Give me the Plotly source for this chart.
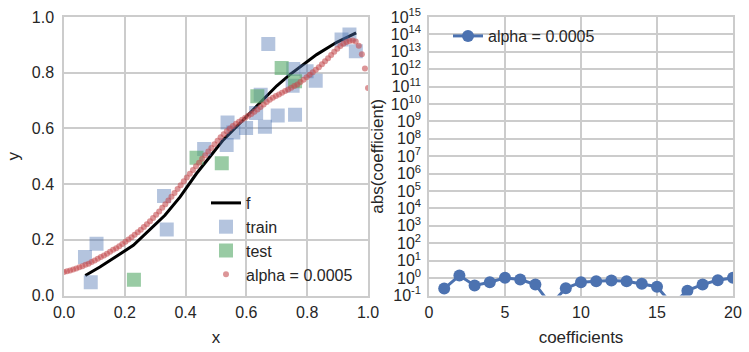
import plotly.graph_objects as go

# ---- data ----
train_x = [0.069, 0.107, 0.088, 0.329, 0.338, 0.461, 0.538, 0.557, 0.535, 0.599, 0.632, 0.647,
           0.661, 0.672, 0.703, 0.754, 0.752, 0.760, 0.798, 0.828, 0.913, 0.939, 0.960]
train_y = [0.138, 0.186, 0.048, 0.357, 0.237, 0.526, 0.621, 0.585, 0.540, 0.601, 0.655, 0.721,
           0.606, 0.903, 0.646, 0.813, 0.753, 0.649, 0.805, 0.771, 0.919, 0.937, 0.877]

test_x = [0.230, 0.436, 0.519, 0.636, 0.716, 0.760]
test_y = [0.057, 0.495, 0.475, 0.715, 0.817, 0.769]

f_x = [0.070, 0.118, 0.228, 0.332, 0.382, 0.436, 0.480, 0.524, 0.590, 0.645, 0.700, 0.743, 0.831, 0.897, 0.961]
f_y = [0.072, 0.102, 0.180, 0.288, 0.354, 0.438, 0.498, 0.559, 0.631, 0.691, 0.753, 0.793, 0.865, 0.909, 0.943]

fit_x = [0.0, .0101, .0202, .0303, .0404, .0505, .0606, .0707, .0808, .0909,
         .1010, .1111, .1212, .1313, .1414, .1515, .1616, .1717, .1818, .1919,
         .2020, .2121, .2222, .2323, .2424, .2525, .2626, .2727, .2828, .2929,
         .3030, .3131, .3232, .3333, .3434, .3535, .3636, .3737, .3838, .3939,
         .4040, .4141, .4242, .4343, .4444, .4545, .4646, .4747, .4848, .4949,
         .5051, .5152, .5253, .5354, .5455, .5556, .5657, .5758, .5859, .5960,
         .6061, .6162, .6263, .6364, .6465, .6566, .6667, .6768, .6869, .6970,
         .7071, .7172, .7273, .7374, .7475, .7576, .7677, .7778, .7879, .7980,
         .8081, .8182, .8283, .8384, .8485, .8586, .8687, .8788, .8889, .8990,
         .9091, .9192, .9293, .9394, .9495, .9596, .9697, .9798, .9899, 1.0]
fit_y = [0.084, 0.087, 0.090, 0.093, 0.097, 0.101, 0.105, 0.110, 0.114, 0.120,
         0.126, 0.132, 0.138, 0.144, 0.150, 0.157, 0.164, 0.170, 0.177, 0.185,
         0.193, 0.201, 0.209, 0.218, 0.227, 0.236, 0.246, 0.256, 0.267, 0.278,
         0.290, 0.302, 0.315, 0.328, 0.341, 0.355, 0.368, 0.382, 0.396, 0.410,
         0.424, 0.437, 0.451, 0.464, 0.477, 0.491, 0.504, 0.517, 0.530, 0.543,
         0.556, 0.568, 0.579, 0.590, 0.600, 0.609, 0.617, 0.624, 0.631, 0.638,
         0.645, 0.652, 0.660, 0.668, 0.677, 0.686, 0.695, 0.703, 0.710, 0.716,
         0.722, 0.728, 0.734, 0.740, 0.746, 0.752, 0.758, 0.767, 0.775, 0.784,
         0.793, 0.802, 0.811, 0.820, 0.830, 0.841, 0.852, 0.864, 0.875, 0.886,
         0.896, 0.904, 0.910, 0.914, 0.916, 0.912, 0.897, 0.866, 0.815, 0.745]

coef_idx = [1, 2, 3, 4, 5, 6, 7, 8, 9, 10, 11, 12, 13, 14, 15, 16, 17, 18, 19, 20]
coef_abs = [0.25, 1.4, 0.38, 0.58, 1.04, 0.83, 0.43, 0.03, 0.26, 0.58,
            0.66, 0.73, 0.66, 0.47, 0.32, 0.03, 0.19, 0.43, 0.76, 1.04]

lin_ticks = [0.0, 0.2, 0.4, 0.6, 0.8, 1.0]
lin_ticktext = ["0.0", "0.2", "0.4", "0.6", "0.8", "1.0"]
coef_xticks = [0, 5, 10, 15, 20]
log_tickvals = [10.0 ** e for e in range(-1, 16)]
log_ticktext = ["10<sup>%d</sup>" % e for e in range(-1, 16)]

# ---- style ----
TXT = "#262626"
GRID = "#cccccc"
FONT = "Liberation Sans, Arial, sans-serif"

fig = go.Figure()
fig.add_trace(go.Scatter(x=f_x, y=f_y, mode="lines", name="f",
                         line=dict(color="black", width=3), legend="legend"))
fig.add_trace(go.Scatter(x=train_x, y=train_y, mode="markers", name="train",
                         marker=dict(symbol="square", size=14, color="rgba(76,114,176,0.42)"),
                         legend="legend"))
fig.add_trace(go.Scatter(x=test_x, y=test_y, mode="markers", name="test",
                         marker=dict(symbol="square", size=14, color="rgba(85,168,104,0.6)"),
                         legend="legend"))
fig.add_trace(go.Scatter(x=fit_x, y=fit_y, mode="markers", name="alpha = 0.0005",
                         marker=dict(size=6, color="rgba(196,78,82,0.6)"),
                         legend="legend"))
fig.add_trace(go.Scatter(x=coef_idx, y=coef_abs, mode="lines+markers", name="alpha = 0.0005",
                         line=dict(color="#4C72B0", width=3),
                         marker=dict(size=12, color="#4C72B0"),
                         xaxis="x2", yaxis="y2", legend="legend2"))

axis_common = dict(showgrid=True, gridcolor=GRID, gridwidth=1.5, showline=True,
                   linecolor=GRID, linewidth=1.5, mirror=True, zeroline=False,
                   ticks="", automargin=False,
                   tickfont=dict(size=16, color=TXT, family=FONT))

fig.update_layout(
    width=749, height=352,
    margin=dict(l=0, r=0, t=0, b=0),
    paper_bgcolor="white", plot_bgcolor="white",
    font=dict(family=FONT, color=TXT, size=16),
    xaxis=dict(domain=[64 / 749, 368 / 749], range=[0, 1], tickvals=lin_ticks,
               ticktext=lin_ticktext, ticklabelstandoff=2,
               title=dict(text="x", font=dict(size=17), standoff=11),
               anchor="y", **axis_common),
    yaxis=dict(domain=[56.5 / 352, 335 / 352], range=[0, 1], tickvals=lin_ticks,
               ticktext=lin_ticktext, ticklabelstandoff=5,
               title=dict(text="y", font=dict(size=17), standoff=8),
               anchor="x", **axis_common),
    xaxis2=dict(domain=[429 / 749, 733 / 749], range=[0, 20], tickvals=coef_xticks,
                ticklabelstandoff=2,
                title=dict(text="coefficients", font=dict(size=17), standoff=11),
                anchor="y2", **axis_common),
    yaxis2=dict(domain=[56.5 / 352, 335 / 352], type="log", range=[-1, 15],
                tickvals=log_tickvals, ticktext=log_ticktext, ticklabelstandoff=3,
                title=dict(text="abs(coefficient)", font=dict(size=17), standoff=3),
                anchor="x2", **axis_common),
    legend=dict(x=206 / 749, y=(352 - 292) / 352, xanchor="left", yanchor="bottom",
                bgcolor="rgba(0,0,0,0)", font=dict(size=16, color=TXT, family=FONT),
                tracegroupgap=0),
    legend2=dict(x=448 / 749, y=(352 - 19) / 352, xanchor="left", yanchor="top",
                 bgcolor="rgba(0,0,0,0)", font=dict(size=16, color=TXT, family=FONT)),
    showlegend=True,
)

fig.write_html("out.html")
